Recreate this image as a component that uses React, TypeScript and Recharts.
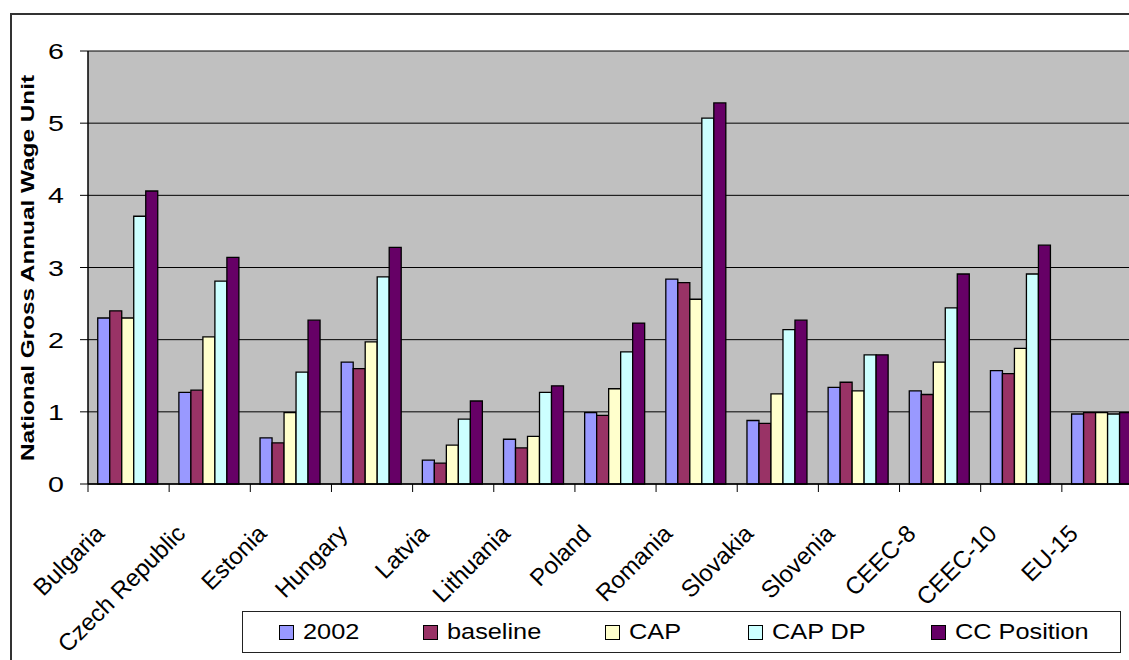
import React from 'react';
import { BarChart, Bar, XAxis, YAxis, CartesianGrid } from 'recharts';

const categories = ['Bulgaria', 'Czech Republic', 'Estonia', 'Hungary', 'Latvia', 'Lithuania', 'Poland', 'Romania', 'Slovakia', 'Slovenia', 'CEEC-8', 'CEEC-10', 'EU-15'];
const v2002 = [2.30, 1.27, 0.64, 1.69, 0.33, 0.62, 0.99, 2.84, 0.88, 1.34, 1.29, 1.57, 0.97];
const baseline = [2.40, 1.30, 0.57, 1.60, 0.29, 0.50, 0.95, 2.79, 0.84, 1.41, 1.24, 1.53, 0.99];
const cap = [2.30, 2.04, 0.99, 1.97, 0.54, 0.66, 1.32, 2.56, 1.25, 1.29, 1.69, 1.88, 0.99];
const capDp = [3.71, 2.81, 1.55, 2.87, 0.90, 1.27, 1.83, 5.07, 2.14, 1.79, 2.44, 2.91, 0.97];
const ccPosition = [4.06, 3.14, 2.27, 3.28, 1.15, 1.36, 2.23, 5.28, 2.27, 1.79, 2.91, 3.31, 0.99];
const yTicks = [0, 1, 2, 3, 4, 5, 6];

const seriesNames = ['2002', 'baseline', 'CAP', 'CAP DP', 'CC Position'];
const seriesKeys = ['v2002', 'baseline', 'cap', 'capDp', 'ccPosition'];
const seriesColors = ['#9999FF', '#993366', '#FFFFCC', '#CCFFFF', '#660066'];

const data = categories.map((name, i) => ({
  name,
  v2002: v2002[i],
  baseline: baseline[i],
  cap: cap[i],
  capDp: capDp[i],
  ccPosition: ccPosition[i],
}));

// layout
const CHART_W = 1150;
const CHART_H = 660;
const PLOT_LEFT = 88;
const PLOT_RIGHT = 1143;
const PLOT_TOP = 51;
const PLOT_BOTTOM = 484;
const BAND = (PLOT_RIGHT - PLOT_LEFT) / categories.length;
const LEGEND_LEFT = [36, 180, 362, 505, 688];
const FONT = '"Liberation Sans", Arial, sans-serif';

const YTick = (props: any) => {
  const { y, payload } = props;
  return (
    <text
      transform={`translate(${PLOT_LEFT - 24},${y + 8}) scale(1.3,1)`}
      textAnchor="end"
      fontSize={22}
      fontFamily={FONT}
      fill="#000"
    >
      {payload.value}
    </text>
  );
};

const XTick = (props: any) => {
  const { x, payload } = props;
  const bx = x - BAND / 2;
  return (
    <g>
      <line x1={bx} x2={bx} y1={PLOT_BOTTOM} y2={PLOT_BOTTOM + 8} stroke="#000" strokeWidth={1} />
      <text
        transform={`translate(${x - 23},${PLOT_BOTTOM + 51}) rotate(-45)`}
        textAnchor="end"
        fontSize={24}
        fontFamily={FONT}
        fill="#000"
      >
        {payload.value}
      </text>
    </g>
  );
};

const LegendBox = () => (
  <div
    style={{
      position: 'absolute',
      left: 242,
      top: 611,
      width: 877,
      height: 40,
      border: '1px solid #222',
      background: '#fff',
      fontFamily: FONT,
    }}
  >
    {seriesNames.map((n, i) => (
      <div key={n} style={{ position: 'absolute', left: LEGEND_LEFT[i], top: 12, display: 'flex', alignItems: 'center' }}>
        <div style={{ width: 13, height: 13, background: seriesColors[i], border: '1px solid #000' }} />
        <span
          style={{
            marginLeft: 9,
            fontSize: 22,
            lineHeight: '16px',
            whiteSpace: 'nowrap',
            display: 'inline-block',
            transform: 'scaleX(1.15)',
            transformOrigin: 'left center',
          }}
        >
          {n}
        </span>
      </div>
    ))}
  </div>
);

const App: React.FC = () => {
  return (
    <div style={{ position: 'absolute', left: 0, top: 0, width: 1129, height: 660, overflow: 'hidden', background: '#fff' }}>
      <div style={{ position: 'absolute', left: 10, top: 13, width: 1200, height: 700, borderLeft: '2px solid #333', borderTop: '2px solid #333' }} />
      <div style={{ position: 'absolute', left: 0, top: 0 }}>
        <BarChart
          width={CHART_W}
          height={CHART_H}
          data={data}
          margin={{ top: PLOT_TOP, right: CHART_W - PLOT_RIGHT, bottom: 0, left: 0 }}
          barCategoryGap="12%"
          barGap={0}
        >
          <CartesianGrid vertical={false} stroke="#000" strokeWidth={1} fill="#C0C0C0" fillOpacity={1} />
          <XAxis
            dataKey="name"
            height={CHART_H - PLOT_BOTTOM}
            interval={0}
            tickLine={false}
            tickSize={0}
            tickMargin={0}
            axisLine={{ stroke: '#000', strokeWidth: 1.5 }}
            tick={<XTick />}
          />
          <YAxis
            width={PLOT_LEFT}
            domain={[0, 6]}
            ticks={yTicks}
            interval={0}
            tickSize={8}
            tickMargin={16}
            tickLine={{ stroke: '#000' }}
            axisLine={{ stroke: '#000', strokeWidth: 1.5 }}
            tick={<YTick />}
          />
          {seriesKeys.map((k, i) => (
            <Bar
              key={k}
              dataKey={k}
              name={seriesNames[i]}
              fill={seriesColors[i]}
              stroke="#000"
              strokeWidth={1.3}
              isAnimationActive={false}
            />
          ))}
        </BarChart>
      </div>
      <LegendBox />
      <div
        style={{
          position: 'absolute',
          left: 27,
          top: 267.5,
          transform: 'translate(-50%, -50%) rotate(-90deg) scaleX(1.28)',
          fontFamily: FONT,
          fontWeight: 'bold',
          fontSize: 19,
          lineHeight: '19px',
          whiteSpace: 'nowrap',
          color: '#000',
        }}
      >
        National Gross Annual Wage Unit
      </div>
    </div>
  );
};

export default App;
